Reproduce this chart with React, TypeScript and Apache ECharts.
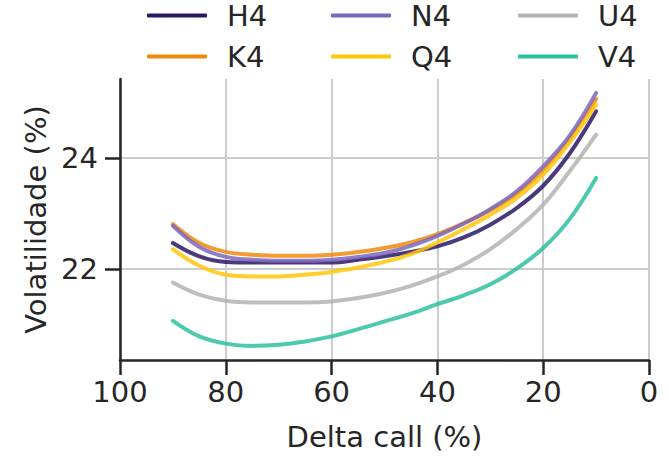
import React, { useEffect, useRef } from "react";
import * as echarts from "echarts";

const deltas = [90, 85, 80, 75, 70, 65, 60, 55, 50, 45, 40, 35, 30, 25, 20, 15, 10];

const H4 = [22.47, 22.23, 22.13, 22.12, 22.12, 22.12, 22.12, 22.17, 22.23, 22.31, 22.41, 22.57, 22.8, 23.1, 23.5, 24.08, 24.84];
const K4 = [22.81, 22.47, 22.31, 22.26, 22.24, 22.24, 22.26, 22.31, 22.38, 22.48, 22.63, 22.83, 23.06, 23.36, 23.78, 24.34, 25.06];
const N4 = [22.78, 22.4, 22.22, 22.17, 22.15, 22.15, 22.17, 22.22, 22.29, 22.42, 22.6, 22.82, 23.08, 23.4, 23.85, 24.4, 25.17];
const Q4 = [22.36, 22.06, 21.9, 21.87, 21.87, 21.9, 21.95, 22.03, 22.13, 22.27, 22.48, 22.72, 22.98, 23.28, 23.7, 24.28, 24.96];
const U4 = [21.76, 21.54, 21.43, 21.4, 21.4, 21.4, 21.42, 21.48, 21.57, 21.7, 21.87, 22.08, 22.36, 22.72, 23.16, 23.76, 24.42];
const V4 = [21.07, 20.79, 20.66, 20.62, 20.64, 20.7, 20.79, 20.92, 21.06, 21.2, 21.37, 21.53, 21.73, 22.01, 22.38, 22.9, 23.64];

const seriesNames = ["H4", "K4", "N4", "Q4", "U4", "V4"];
const seriesValues = [H4, K4, N4, Q4, U4, V4];
const seriesColors = ["#2b1667", "#f08a0c", "#7c67bf", "#ffc60a", "#b3b3b3", "#2ebf9f"];
const legendColumns = [
  ["H4", "K4"],
  ["N4", "Q4"],
  ["U4", "V4"],
];
const legendLefts = [147, 331, 518];

const xTicks = [0, 20, 40, 60, 80, 100];
const yTicks = [22, 24];

const FONT = "DejaVu Sans";
const INK = "#262626";
const FS = 29;

export default function App() {
  const ref = useRef<HTMLDivElement>(null);
  useEffect(() => {
    if (!ref.current) return;
    const chart = echarts.init(ref.current, undefined, { renderer: "svg" });
    chart.setOption({
      animation: false,
      backgroundColor: "#ffffff",
      textStyle: { fontFamily: FONT, color: INK },
      legend: legendColumns.map((col, i) => ({
        data: col,
        left: legendLefts[i],
        top: 0,
        orient: "vertical",
        icon: "roundRect",
        itemWidth: 60,
        itemHeight: 4,
        itemGap: 10,
        padding: 0,
        selectedMode: false,
        textStyle: {
          fontFamily: FONT,
          fontSize: FS,
          lineHeight: 31,
          color: INK,
          padding: [0, 0, 0, 15],
        },
      })),
      grid: { left: 120, right: 20, top: 79, bottom: 101, containLabel: false },
      xAxis: {
        type: "value",
        min: 0,
        max: 100,
        interval: 20,
        inverse: true,
        name: "Delta call (%)",
        nameLocation: "middle",
        nameGap: 62,
        nameTextStyle: { fontFamily: FONT, fontSize: FS, color: INK },
        axisLine: { onZero: false, lineStyle: { color: INK, width: 2.5 } },
        axisTick: { show: true, length: 15, lineStyle: { color: INK, width: 2.5 } },
        axisLabel: { fontFamily: FONT, fontSize: FS, color: INK, margin: 17, customValues: xTicks },
        splitLine: { show: true, lineStyle: { color: "#cccccc", width: 2 } },
      },
      yAxis: {
        type: "value",
        min: 20.366,
        max: 25.42,
        name: "Volatilidade (%)",
        nameLocation: "middle",
        nameGap: 67,
        nameRotate: 90,
        nameTextStyle: { fontFamily: FONT, fontSize: FS, color: INK },
        axisLine: { show: true, onZero: false, lineStyle: { color: INK, width: 2.5 } },
        axisTick: { show: true, length: 15, lineStyle: { color: INK, width: 2.5 }, customValues: yTicks },
        axisLabel: { fontFamily: FONT, fontSize: FS, color: INK, margin: 22, customValues: yTicks },
        splitLine: { show: true, lineStyle: { color: "#cccccc", width: 2 } },
      },
      series: seriesNames.map((name, i) => ({
        name,
        type: "line",
        smooth: 0.4,
        symbol: "none",
        data: deltas.map((d, j) => [d, seriesValues[i][j]]),
        itemStyle: { color: seriesColors[i] },
        lineStyle: { color: seriesColors[i], width: 4, opacity: 0.85, cap: "round" },
      })),
    });
    return () => chart.dispose();
  }, []);
  return (
    <div
      ref={ref}
      style={{ position: "fixed", left: 0, top: 0, width: 669, height: 461 }}
    />
  );
}
